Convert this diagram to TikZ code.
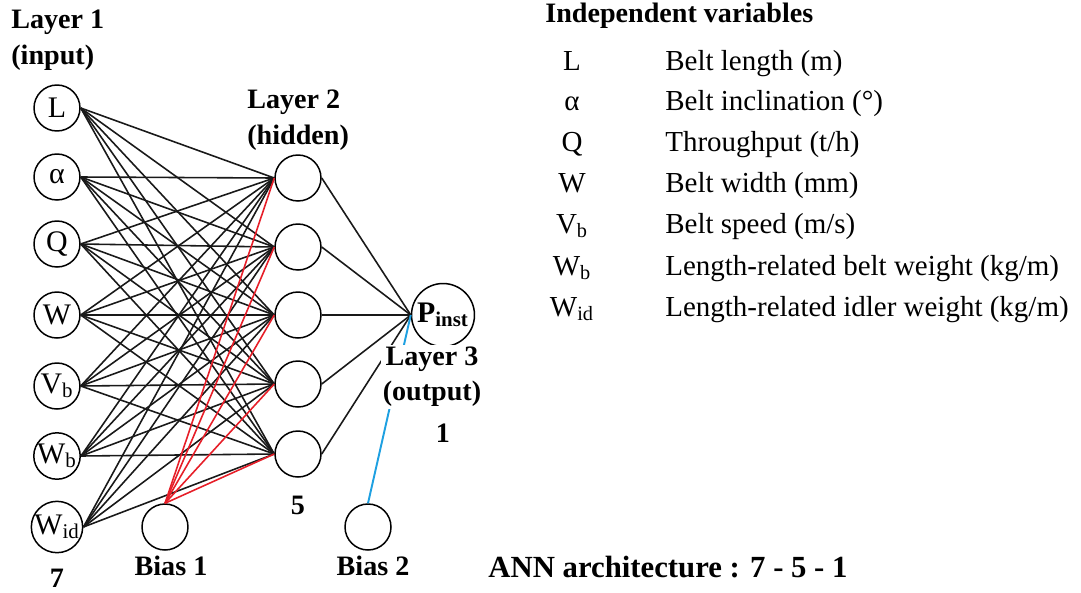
\documentclass[tikz,border=0pt]{standalone}
\usepackage{fontspec}
\setmainfont{Liberation Serif}
\usetikzlibrary{positioning}

\definecolor{biasred}{RGB}{230,30,40}
\definecolor{biasblue}{RGB}{30,160,225}

\tikzset{
	neuron/.style={circle, draw, line width=0.85pt, minimum size=0.92cm, inner sep=0pt, font=\fontsize{17}{19}\selectfont},
	link/.style={line width=0.9pt, black!90},
	lbl/.style={font=\fontsize{16}{20}\selectfont\bfseries, inner sep=0pt},
	txt/.style={font=\fontsize{16.5}{20}\selectfont, inner sep=0pt}
}

\begin{document}
\begin{tikzpicture}[x=0.02cm, y=-0.02cm]
		%%%%% START %%%%%
		\useasboundingbox (0,0) rectangle (1081,592);
		
		% layers
		\foreach \n/\t/\y in {1/L/108, 2/α/177, 3/Q/244, 4/W/315, 5/{V\textsubscript{b}}/386, 6/{W\textsubscript{b}}/456, 7/{W\textsubscript{id}}/527}
			\node[neuron] (in\n) at (57,\y) {\t};
		\foreach \n/\y in {1/178, 2/247, 3/315, 4/384, 5/454}
			\node[neuron] (hid\n) at (298,\y) {};
		\node[neuron, minimum size=1.26cm, font=\fontsize{17}{19}\selectfont\bfseries] (out) at (443,315) {P\textsubscript{inst}};
		\node[neuron] (bias1) at (165,527) {};
		\node[neuron] (bias2) at (368,527) {};
		
		% weights
		\foreach \i in {1,...,7}
			\foreach \j in {1,...,5}
				\draw[link] (in\i.east) -- (hid\j.west);
		\foreach \j in {1,...,5}
			\draw[link, biasred] (bias1.north) -- (hid\j.west);
		\foreach \j in {1,...,5}
			\draw[link] (hid\j.east) -- (out.west);
		\draw[link, biasblue, line width=1.1pt] (bias2.north) -- (out.west);
		
		% layer labels
		\node[lbl, align=left, anchor=north west] (lay1) at (11,10) {Layer 1\\(input)};
		\node[lbl, align=left, anchor=north west] (lay2) at (247,90) {Layer 2\\(hidden)};
		\node[lbl, align=center, fill=white, inner sep=1pt] (lay3) at (432,377) {Layer 3\\(output)};
		\node[lbl] (num1) at (57,578) {7};
		\node[lbl] (num2) at (298,505) {5};
		\node[lbl] (num3) at (443,433) {1};
		\node[lbl] (b1lbl) at (171,566) {Bias 1};
		\node[lbl] (b2lbl) at (373,566) {Bias 2};
		
		% variables
		\node[lbl, anchor=west] (vartitle) at (545,16) {Independent variables};
		\foreach \n/\s/\d/\y in {1/L/{Belt length (m)}/70, 2/α/{Belt inclination (°)}/110, 3/Q/{Throughput (t/h)}/151, 4/W/{Belt width (mm)}/192, 5/{V\textsubscript{b}}/{Belt speed (m/s)}/233, 6/{W\textsubscript{b}}/{Length-related belt weight (kg/m)}/275, 7/{W\textsubscript{id}}/{Length-related idler weight (kg/m)}/316}
		{
			\node[txt, anchor=base] (sym\n) at (572,\y) {\s};
			\node[txt, anchor=base west] (desc\n) at (665,\y) {\d};
		}
		
		\node[lbl, anchor=base west, font=\fontsize{17.5}{20}\selectfont\bfseries] (arch) at (488,577) {ANN architecture : 7 - 5 - 1};
		
		%%%%% END %%%%%
	\end{tikzpicture}
\end{document}
